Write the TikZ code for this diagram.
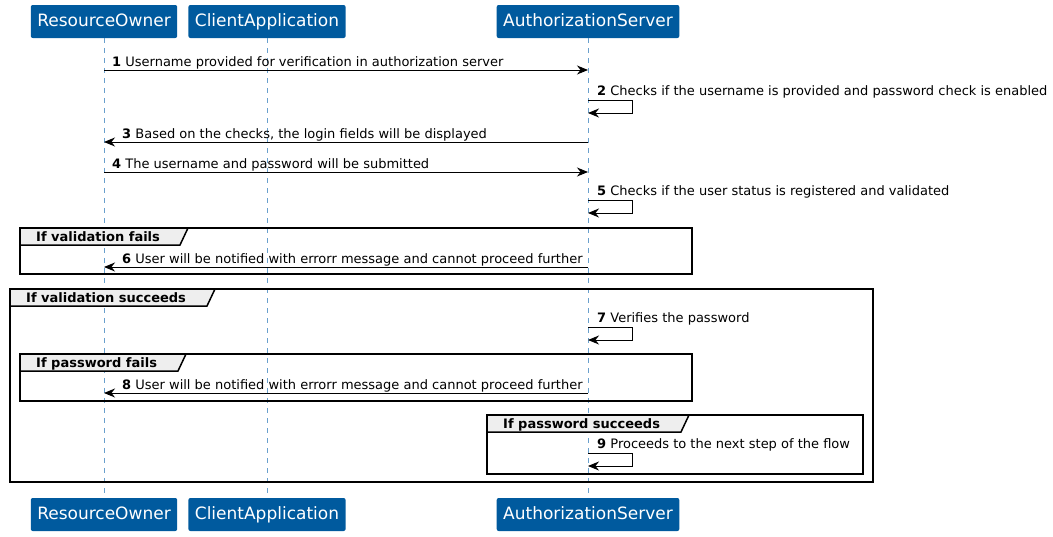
\documentclass[tikz,border=0pt]{standalone}
\usepackage{fontspec}
\setmainfont{DejaVu Sans}
\usetikzlibrary{arrows.meta}
\definecolor{partblue}{RGB}{0,90,158}
\definecolor{lifeblue}{RGB}{105,160,205}
\definecolor{tabgray}{RGB}{238,238,238}
\tikzset{
    part/.style={fill=partblue, text=white, rounded corners=2pt, minimum height=33pt,
        inner xsep=6.5pt, text height=12.5pt, text depth=3.5pt,
        font=\fontsize{17}{20}\selectfont},
    life/.style={lifeblue, dash pattern=on 5pt off 5pt, line width=0.8pt},
    msg/.style={line width=1pt, -{Stealth[length=11pt,width=9pt,inset=3.5pt]}},
    lbl/.style={anchor=base west, inner sep=0pt, font=\fontsize{13}{15}\selectfont},
    gframe/.style={line width=1.5pt},
    gtitle/.style={anchor=base west, inner sep=0pt, font=\bfseries\fontsize{13}{15}\selectfont},
}
\begin{document}
\begin{tikzpicture}[x=1pt, y=-1pt]
    \useasboundingbox (0,0) rectangle (1053,536);
    \foreach \pn/\px/\pt in {RO/104/ResourceOwner, CA/267/ClientApplication,
        AS/588/AuthorizationServer} {
        \node[part] (top-\pn) at (\px,21.5) {\pt};
        \node[part] (bot-\pn) at (\px,514.5) {\pt};
        \draw[life] (top-\pn) -- (bot-\pn);
        \foreach \k/\yy in {1/70,2/100,3/142,4/172,5/200,6/267,7/327,8/393,9/453}
            \coordinate (\pn-\k) at (\px,\yy);
    }
    % groups
    \foreach \gn/\gx/\gy/\gw/\gh/\gr/\gt in {
        gvf/20/228/672/46/188/If validation fails,
        gvs/10/289/863/193/215/If validation succeeds,
        gpf/20/354/672/47/186/If password fails,
        gps/487/415/376/59/689/If password succeeds} {
        \draw[gframe] (\gx,\gy) rectangle ++(\gw,\gh);
        \filldraw[gframe, fill=tabgray] (\gx,\gy) -- (\gr,\gy) -- (\gr-8,\gy+17)
            -- (\gx,\gy+17) -- cycle;
        \node[gtitle] (\gn) at (\gx+16,\gy+13) {\gt};
    }
    % messages
    \foreach \k/\pa/\pb/\dx/\txt in {
        1/RO/AS/8/{Username provided for verification in authorization server},
        3/AS/RO/18/{Based on the checks, the login fields will be displayed},
        4/RO/AS/8/{The username and password will be submitted},
        6/AS/RO/18/{User will be notified with errorr message and cannot proceed further},
        8/AS/RO/18/{User will be notified with errorr message and cannot proceed further}} {
        \draw[msg] (\pa-\k) -- (\pb-\k);
        \node[lbl] (lbl-\k) at ([shift={(\dx,-4)}]RO-\k) {\textbf{\k} \txt};
    }
    \foreach \k/\txt in {
        2/{Checks if the username is provided and password check is enabled},
        5/{Checks if the user status is registered and validated},
        7/{Verifies the password},
        9/{Proceeds to the next step of the flow}} {
        \draw[msg] (AS-\k) -- ++(44,0) -- ++(0,13) -- ([yshift=-13pt]AS-\k);
        \node[lbl] (lbl-\k) at ([shift={(9,-5)}]AS-\k) {\textbf{\k} \txt};
    }
\end{tikzpicture}
\end{document}
